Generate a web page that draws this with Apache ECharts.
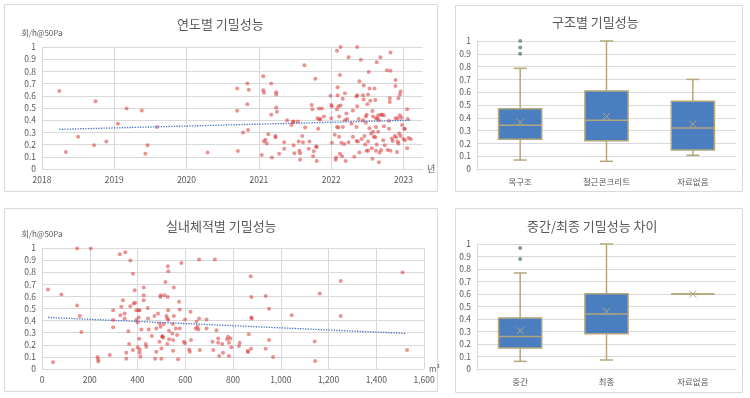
<!DOCTYPE html>
<html>
<head>
<meta charset="utf-8">
<script src="https://cdn.jsdelivr.net/npm/echarts@6/dist/echarts.min.js"></script>
<style>
html,body{margin:0;padding:0;background:#fff;}
#chart{width:750px;height:398px;}
</style>
</head>
<body>
<div id="chart"></div>
<script>
// 연도별 기밀성능 (준공연도, 회/h@50Pa)
const buildYear = [
  2018.24,2018.33,2018.50,2018.72,2018.74,2018.89,2019.05,2019.17,2019.38,2019.43,
  2019.46,2019.59,2020.29,2020.70,2020.70,2020.71,2020.78,2020.84,2020.84,2020.85,
  2020.86,
  2021.04,2021.06,2021.06,2021.07,2021.07,2021.09,2021.11,2021.13,2021.17,2021.17,
  2021.18,2021.23,2021.23,2021.24,2021.24,2021.24,2021.25,2021.28,2021.35,2021.35,
  2021.39,2021.45,2021.47,2021.48,2021.48,2021.49,2021.54,2021.55,2021.56,2021.57,
  2021.57,2021.60,2021.61,2021.63,2021.64,2021.69,2021.70,2021.73,2021.74,2021.75,
  2021.76,2021.78,2021.79,2021.80,2021.80,2021.81,2021.82,2021.83,2021.84,2021.85,
  2021.87,2021.90,
  2021.99,2022.00,2022.01,2022.00,2022.01,2022.05,2022.06,2022.08,2022.07,2022.08,
  2022.08,2022.09,2022.09,2022.10,2022.10,2022.11,2022.11,2022.12,2022.12,2022.13,
  2022.13,2022.14,2022.15,2022.16,2022.16,2022.18,2022.19,2022.19,2022.20,2022.21,
  2022.22,2022.24,2022.24,2022.28,2022.30,2022.30,2022.32,2022.35,2022.35,2022.35,
  2022.36,2022.36,2022.36,2022.37,2022.38,2022.39,2022.39,2022.41,2022.42,2022.44,
  2022.44,2022.45,2022.45,2022.46,2022.47,2022.48,2022.48,2022.49,2022.49,2022.50,
  2022.51,2022.51,2022.51,2022.52,2022.53,2022.53,2022.54,2022.55,2022.56,2022.57,
  2022.57,2022.58,2022.58,2022.59,2022.60,2022.61,2022.61,2022.62,2022.62,2022.62,
  2022.63,2022.63,2022.64,2022.65,2022.65,2022.66,2022.66,2022.67,2022.68,2022.69,
  2022.69,2022.70,2022.72,2022.73,2022.73,2022.74,2022.77,2022.78,2022.80,2022.80,
  2022.81,2022.81,2022.82,2022.82,2022.82,2022.84,2022.85,2022.88,2022.89,2022.89,
  2022.89,2022.90,2022.91,2022.92,2022.92,2022.93,2022.93,2022.94,2022.95,2022.95,
  2022.96,2022.96,2022.97,2022.98,2023.00,2023.01,2023.02,2023.02,2023.05,2023.05,
  2023.06,2023.07,2023.10
];
const leakByYear = [
  0.64,0.14,0.265,0.195,0.555,0.225,0.37,0.495,0.48,0.125,
  0.195,0.345,0.135,0.66,0.477,0.147,0.30,0.70,0.53,0.32,
  0.65,
  0.115,0.76,0.645,0.625,0.225,0.24,0.21,0.285,0.445,0.70,
  0.095,0.27,0.26,0.63,0.61,0.505,0.47,0.125,0.22,0.165,
  0.40,0.36,0.385,0.39,0.195,0.13,0.39,0.225,0.15,0.13,
  0.075,0.27,0.22,0.85,0.34,0.165,0.225,0.525,0.49,0.105,
  0.145,0.74,0.185,0.065,0.18,0.415,0.33,0.495,0.405,0.41,
  0.495,0.43,
  0.60,0.525,0.515,0.415,0.215,0.28,0.075,0.97,0.095,0.345,
  0.49,0.67,0.605,0.515,0.34,0.43,0.265,0.125,0.77,1.0,
  0.52,0.215,0.105,0.575,0.345,0.205,0.62,0.40,0.065,0.455,
  0.41,0.915,0.22,0.37,0.48,0.265,0.10,0.345,0.23,0.595,
  1.0,0.605,0.515,0.225,0.41,0.72,0.135,0.895,0.245,0.605,
  0.40,0.685,0.57,0.27,0.20,0.43,0.38,0.15,0.445,0.53,
  0.225,0.15,0.61,0.795,0.66,0.335,0.56,0.29,0.17,0.475,
  0.085,0.43,0.305,0.265,0.66,0.565,0.26,0.345,0.15,0.415,
  0.875,0.20,0.415,0.305,0.44,0.40,0.055,0.135,0.915,0.445,
  0.155,0.445,0.235,0.35,0.44,0.195,0.81,0.155,0.395,0.33,
  0.58,0.55,0.955,0.805,0.15,0.25,0.23,0.27,0.415,0.73,
  0.68,0.26,0.14,0.415,0.225,0.58,0.21,0.29,0.61,0.44,
  0.635,0.27,0.42,0.36,0.245,0.33,0.33,0.235,0.49,0.17,
  0.41,0.255,0.245
];
const yearTrend = [[2018.24, 0.325], [2023.10, 0.40]];

// 실내체적별 기밀성능 (m³, 회/h@50Pa)
const roomVolume = [
  25,46,81,147,147,158,165,204,233,235,
  236,284,298,298,298,326,328,332,339,346,
  346,349,353,353,362,365,370,370,381,381,
  384,388,390,395,395,400,401,404,405,407,
  409,409,409,412,416,426,426,426,434,437,
  443,444,447,460,471,474,479,479,486,492,
  493,496,497,497,500,500,503,505,507,510,
  513,517,521,525,525,527,527,528,529,529,
  532,532,546,548,549,549,552,552,560,566,
  570,574,577,577,584,594,599,599,616,619,
  622,624,644,647,651,655,658,658,661,689,
  689,714,717,724,731,738,738,742,755,758,
  775,779,783,783,789,793,825,828,861,863,
  866,874,875,877,877,878,937,937,951,951,
  968,1046,1142,1144,1163,1251,1251,1510,1529
];
const leakByVolume = [
  0.657,0.055,0.615,0.995,0.525,0.437,0.305,0.995,0.099,0.08,
  0.063,0.115,0.486,0.404,0.346,0.948,0.445,0.514,0.569,0.459,
  0.418,0.964,0.135,0.085,0.313,0.206,0.896,0.519,0.788,0.157,
  0.541,0.651,0.547,0.486,0.404,0.385,0.179,0.486,0.426,0.25,
  0.486,0.162,0.135,0.102,0.327,0.673,0.61,0.569,0.206,0.184,
  0.505,0.418,0.327,0.272,0.437,0.085,0.335,0.143,0.459,0.225,
  0.376,0.596,0.61,0.349,0.17,0.085,0.266,0.27,0.261,0.371,
  0.61,0.72,0.437,0.206,0.418,0.849,0.596,0.486,0.808,0.404,
  0.316,0.245,0.294,0.371,0.151,0.239,0.673,0.437,0.335,0.28,
  0.08,0.555,0.492,0.335,0.876,0.225,0.409,0.212,0.162,0.143,
  0.473,0.239,0.335,0.39,0.349,0.327,0.418,0.904,0.157,0.409,
  0.335,0.225,0.157,0.904,0.321,0.253,0.217,0.107,0.206,0.135,
  0.245,0.266,0.217,0.107,0.253,0.179,0.19,0.217,0.148,0.14,
  0.288,0.766,0.168,0.596,0.426,0.418,0.604,0.168,0.497,0.239,
  0.099,0.445,0.228,0.066,0.624,0.728,0.437,0.797,0.157
];
const volumeTrend = [[25, 0.426], [1524, 0.294]];

// 구조별 기밀성능: [min, Q1, median, Q3, max]
const structCats = ['목구조', '철근콘크리트', '자료없음'];
const structBox = [[0.07, 0.232, 0.341, 0.471, 0.786], [0.06, 0.221, 0.38, 0.609, 1.0], [0.107, 0.148, 0.32, 0.529, 0.70]];
const structMean = [0.365, 0.41, 0.35];
const structOutliers = [[0, 1.0], [0, 0.95], [0, 0.90]];

// 중간/최종 기밀성능 차이
const stageCats = ['중간', '최종', '자료없음'];
const stageBox = [[0.061, 0.168, 0.261, 0.408, 0.768], [0.072, 0.283, 0.44, 0.603, 1.0], [0.6, 0.6, 0.6, 0.6, 0.6]];
const stageMean = [0.307, 0.461, 0.6];
const stageOutliers = [[0, 0.968], [0, 0.88]];

const yTicks = { min: 0, max: 1, interval: 0.1 };

const gridColor = '#D9D9D9';
const textColor = '#595959';
const font = 'Noto Sans CJK KR';

function zip(a, b) { return a.map((v, i) => [v, b[i]]); }
function boxData(box, mean) { return box.map((b, i) => [i].concat(b, [mean[i]])); }

function renderBox(params, api) {
  const cat = api.value(0);
  const lo = api.coord([cat, api.value(1)]);
  const q1 = api.coord([cat, api.value(2)]);
  const md = api.coord([cat, api.value(3)]);
  const q3 = api.coord([cat, api.value(4)]);
  const hi = api.coord([cat, api.value(5)]);
  const mn = api.coord([cat, api.value(6)]);
  const bw = api.size([1, 0])[0] * 0.5;
  const x = lo[0];
  const cap = 6.5;
  const tan = '#B5A67B';
  const lineStyle = { stroke: tan, lineWidth: 1.5 };
  return {
    type: 'group',
    children: [
      { type: 'line', shape: { x1: x, y1: lo[1], x2: x, y2: q1[1] }, style: lineStyle },
      { type: 'line', shape: { x1: x - cap, y1: lo[1], x2: x + cap, y2: lo[1] }, style: lineStyle },
      { type: 'line', shape: { x1: x, y1: hi[1], x2: x, y2: q3[1] }, style: lineStyle },
      { type: 'line', shape: { x1: x - cap, y1: hi[1], x2: x + cap, y2: hi[1] }, style: lineStyle },
      { type: 'rect', shape: { x: x - bw / 2, y: q3[1], width: bw, height: q1[1] - q3[1] },
        style: { fill: '#4A7EBE', stroke: tan, lineWidth: 1.5 } },
      { type: 'line', shape: { x1: x - bw / 2, y1: md[1], x2: x + bw / 2, y2: md[1] }, style: lineStyle },
      { type: 'line', shape: { x1: mn[0] - 3.5, y1: mn[1] - 3.5, x2: mn[0] + 3.5, y2: mn[1] + 3.5 }, style: { stroke: tan, lineWidth: 1 } },
      { type: 'line', shape: { x1: mn[0] - 3.5, y1: mn[1] + 3.5, x2: mn[0] + 3.5, y2: mn[1] - 3.5 }, style: { stroke: tan, lineWidth: 1 } }
    ]
  };
}

const chart = echarts.init(document.getElementById('chart'));

const labelStyle = { color: textColor, fontSize: 8.5, fontFamily: font };
const titleStyle = { color: textColor, fontSize: 13, fontWeight: 'normal', fontFamily: font };
const dotColor = 'rgba(215,55,55,0.68)';

function valueY(gridIndex, axisLine) {
  return {
    type: 'value', gridIndex: gridIndex, min: yTicks.min, max: yTicks.max, interval: yTicks.interval,
    axisLine: { show: axisLine, lineStyle: { color: gridColor } },
    axisTick: { show: false },
    axisLabel: Object.assign({ margin: 6 }, labelStyle),
    splitLine: { show: true, lineStyle: { color: gridColor, width: 1 } }
  };
}

const option = {
  animation: false,
  backgroundColor: '#fff',
  textStyle: { fontFamily: font },
  graphic: [
    { type: 'rect', z: -10, silent: true, shape: { x: 4.5, y: 4.5, width: 433, height: 187 }, style: { fill: '#fff', stroke: gridColor } },
    { type: 'rect', z: -10, silent: true, shape: { x: 455.5, y: 5.5, width: 287, height: 186 }, style: { fill: '#fff', stroke: gridColor } },
    { type: 'rect', z: -10, silent: true, shape: { x: 4.5, y: 208.5, width: 433, height: 183 }, style: { fill: '#fff', stroke: gridColor } },
    { type: 'rect', z: -10, silent: true, shape: { x: 455.5, y: 208.5, width: 287, height: 184 }, style: { fill: '#fff', stroke: gridColor } }
  ],
  title: [
    { text: '연도별 기밀성능', left: 177, top: 18, padding: 0, textStyle: titleStyle },
    { text: '구조별 기밀성능', left: 552, top: 16, padding: 0, textStyle: titleStyle },
    { text: '실내체적별 기밀성능', left: 166, top: 220, padding: 0, textStyle: titleStyle },
    { text: '중간/최종 기밀성능 차이', left: 527, top: 220, padding: 0, textStyle: titleStyle }
  ],
  grid: [
    { left: 42, top: 47, width: 381, height: 122 },
    { left: 477, top: 41, width: 259, height: 128 },
    { left: 42, top: 248, width: 382, height: 121 },
    { left: 477, top: 244, width: 259, height: 125 }
  ],
  xAxis: [
    {
      type: 'value', gridIndex: 0, min: 2018, max: 2023.27, interval: 1,
      name: '년', nameLocation: 'end', nameGap: 4,
      nameTextStyle: { color: textColor, fontSize: 9, fontFamily: font },
      axisLine: { show: false }, axisTick: { show: false },
      axisLabel: Object.assign({ margin: 7, formatter: v => Math.abs(v - Math.round(v)) < 1e-6 ? String(Math.round(v)) : '' }, labelStyle),
      splitLine: { show: true, lineStyle: { color: [gridColor, gridColor, gridColor, gridColor, gridColor, gridColor, 'rgba(0,0,0,0)'] } }
    },
    {
      type: 'category', gridIndex: 1, data: structCats,
      axisLine: { show: true, lineStyle: { color: gridColor } }, axisTick: { show: false },
      axisLabel: Object.assign({ margin: 9 }, labelStyle)
    },
    {
      type: 'value', gridIndex: 2, min: 0, max: 1600, interval: 200,
      name: 'm³', nameLocation: 'end', nameGap: 5,
      nameTextStyle: { color: textColor, fontSize: 8, fontFamily: font },
      axisLine: { show: false }, axisTick: { show: false },
      axisLabel: Object.assign({ margin: 7, formatter: v => v.toLocaleString('en-US') }, labelStyle),
      splitLine: { show: true, lineStyle: { color: gridColor } }
    },
    {
      type: 'category', gridIndex: 3, data: stageCats,
      axisLine: { show: true, lineStyle: { color: gridColor } }, axisTick: { show: false },
      axisLabel: Object.assign({ margin: 9 }, labelStyle)
    }
  ],
  yAxis: [
    Object.assign(valueY(0, false), { name: '회/h@50Pa', nameLocation: 'end', nameGap: 10,
      nameTextStyle: { color: textColor, fontSize: 8, fontFamily: font, align: 'center' } }),
    valueY(1, true),
    Object.assign(valueY(2, false), { name: '회/h@50Pa', nameLocation: 'end', nameGap: 10,
      nameTextStyle: { color: textColor, fontSize: 8, fontFamily: font, align: 'center' } }),
    valueY(3, true)
  ],
  series: [
    {
      type: 'scatter', xAxisIndex: 0, yAxisIndex: 0, data: zip(buildYear, leakByYear),
      symbolSize: 4, itemStyle: { color: dotColor }
    },
    {
      type: 'line', xAxisIndex: 0, yAxisIndex: 0, data: yearTrend, symbol: 'none',
      lineStyle: { color: '#4472C4', width: 1.3, type: 'dotted' }
    },
    {
      type: 'custom', xAxisIndex: 1, yAxisIndex: 1, data: boxData(structBox, structMean),
      renderItem: renderBox, encode: { x: 0, y: [1, 2, 3, 4, 5, 6] }
    },
    {
      type: 'scatter', xAxisIndex: 1, yAxisIndex: 1, data: structOutliers,
      symbolSize: 4, itemStyle: { color: '#5E8080' }
    },
    {
      type: 'scatter', xAxisIndex: 2, yAxisIndex: 2, data: zip(roomVolume, leakByVolume),
      symbolSize: 4, itemStyle: { color: dotColor }
    },
    {
      type: 'line', xAxisIndex: 2, yAxisIndex: 2, data: volumeTrend, symbol: 'none',
      lineStyle: { color: '#4472C4', width: 1.3, type: 'dotted' }
    },
    {
      type: 'custom', xAxisIndex: 3, yAxisIndex: 3, data: boxData(stageBox, stageMean),
      renderItem: renderBox, encode: { x: 0, y: [1, 2, 3, 4, 5, 6] }
    },
    {
      type: 'scatter', xAxisIndex: 3, yAxisIndex: 3, data: stageOutliers,
      symbolSize: 4, itemStyle: { color: '#5E8080' }
    }
  ]
};

chart.setOption(option);
</script>
</body>
</html>
